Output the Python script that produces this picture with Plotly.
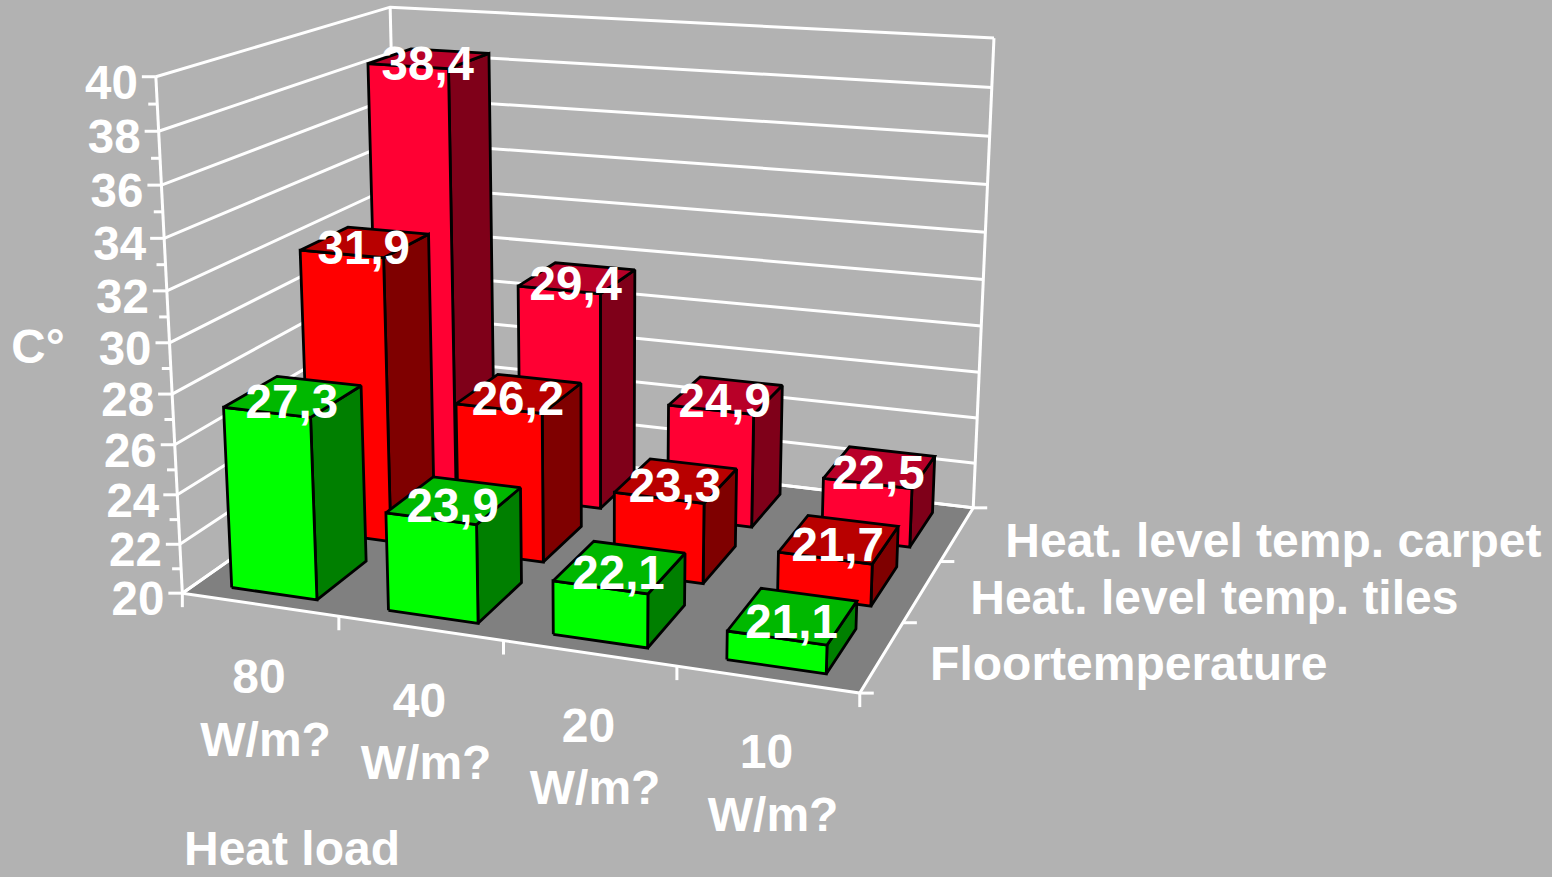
import numpy as np
import plotly.graph_objects as go

# Chart content
categories = ["80 W/m?", "40 W/m?", "20 W/m?", "10 W/m?"]
series_names = ["Floortemperature", "Heat. level temp. tiles", "Heat. level temp. carpet"]
floor_temperature = [27.3, 23.9, 22.1, 21.1]
tiles_temperature = [31.9, 26.2, 23.3, 21.7]
carpet_temperature = [38.4, 29.4, 24.9, 22.5]
value_ticks = list(range(20, 41, 2))
decimal_label = lambda v: f"{v:.1f}".replace(".", ",")

# Face colours per series: front, top, side
front_colors = ["#00FF00", "#FF0000", "#FF0033"]
top_colors = ["#00B800", "#B80000", "#B80028"]
side_colors = ["#007F00", "#7F0000", "#7F0019"]
BACKGROUND = "#B2B2B2"
FLOOR = "#808080"
FONT = "Liberation Sans"
VALUE_FONT_SIZE = 47.5
TITLE_FONT_SIZE = 48

# Box corners (category position, series position, value) and where they sit on the canvas
box_corners = [(0, 0, 20), (4, 0, 20), (4, 3, 20), (0, 3, 20), (0, 0, 40), (0, 3, 40), (4, 3, 40)]
canvas_corners = [(182, 593), (860, 693), (973, 508), (401, 440), (156, 77), (390, 7), (994, 38)]

# Solve the 3D-to-canvas perspective matrix
rows, rhs = [], []
for (a, b, c), (px, py) in zip(box_corners, canvas_corners):
    rows.append([a, b, c, 1, 0, 0, 0, 0, -px * a, -px * b, -px * c])
    rhs.append(px)
    rows.append([0, 0, 0, 0, a, b, c, 1, -py * a, -py * b, -py * c])
    rhs.append(py)
solution = np.linalg.lstsq(np.array(rows, float), np.array(rhs, float), rcond=None)[0]
CAMERA = np.append(solution, 1.0).reshape(3, 4)


def project(a, b, c):
    x, y, w = CAMERA @ np.array([a, b, c, 1.0])
    return x / w, y / w


def polyline(points, color, width):
    xy = [project(*p) for p in points]
    return go.Scatter(x=[p[0] for p in xy], y=[p[1] for p in xy], mode="lines",
                      line=dict(color=color, width=width), hoverinfo="skip", showlegend=False)


def face(points, fill):
    xy = [project(*p) for p in points]
    xy.append(xy[0])
    return go.Scatter(x=[p[0] for p in xy], y=[p[1] for p in xy], mode="lines", fill="toself",
                      fillcolor=fill, line=dict(color="black", width=2.8),
                      hoverinfo="skip", showlegend=False)


def tick(start, dx, dy):
    x, y = project(*start)
    return go.Scatter(x=[x, x + dx], y=[y, y + dy], mode="lines",
                      line=dict(color="white", width=WHITE_W), hoverinfo="skip", showlegend=False)


def labels(xs, ys, texts, position, size):
    return go.Scatter(x=xs, y=ys, text=texts, mode="text", textposition=position,
                      textfont=dict(family=FONT, size=size, color="white", weight="bold"),
                      hoverinfo="skip", showlegend=False, cliponaxis=False)


fig = go.Figure()
N_CAT, N_SER, LOW, HIGH = len(categories), len(series_names), 20, 40
WHITE_W = 3

# Floor
fig.add_trace(face([(0, 0, LOW), (N_CAT, 0, LOW), (N_CAT, N_SER, LOW), (0, N_SER, LOW)], FLOOR))
fig.data[-1].line = dict(color="white", width=WHITE_W)

# Gridlines on the left and back walls, then the wall uprights
for v in value_ticks:
    fig.add_trace(polyline([(0, 0, v), (0, N_SER, v), (N_CAT, N_SER, v)], "white", WHITE_W))
for a, b in [(0, 0), (0, N_SER), (N_CAT, N_SER)]:
    fig.add_trace(polyline([(a, b, LOW), (a, b, HIGH)], "white", WHITE_W))

# Tick marks on all three axes
for v in range(LOW, HIGH + 1):
    fig.add_trace(tick((0, 0, v), -14 if v % 2 == 0 else -9, 0))
for a in range(N_CAT + 1):
    fig.add_trace(tick((a, 0, LOW), 0, 14))
for b in range(N_SER + 1):
    fig.add_trace(tick((N_CAT, b, LOW), 14, 0))

# Bars, painted from the back row forward and left to right within a row
BAR_W, BAR_D = 0.55, 0.65
table = [floor_temperature, tiles_temperature, carpet_temperature]
for s in reversed(range(N_SER)):
    for c in range(N_CAT):
        value = table[s][c]
        a0, a1 = c + 0.5 - BAR_W / 2, c + 0.5 + BAR_W / 2
        b0, b1 = s + 0.5 - BAR_D / 2, s + 0.5 + BAR_D / 2
        fig.add_trace(face([(a1, b0, LOW), (a1, b1, LOW), (a1, b1, value), (a1, b0, value)], side_colors[s]))
        fig.add_trace(face([(a0, b0, LOW), (a1, b0, LOW), (a1, b0, value), (a0, b0, value)], front_colors[s]))
        fig.add_trace(face([(a0, b0, value), (a1, b0, value), (a1, b1, value), (a0, b1, value)], top_colors[s]))

# Value labels over the bar tops
vx, vy, vt = [], [], []
for s in reversed(range(N_SER)):
    for c in range(N_CAT):
        x, y = project(c + 0.5, s + 0.5, table[s][c])
        vx.append(x - 1.5)
        vy.append(y + 10)
        vt.append(decimal_label(table[s][c]))
fig.add_trace(labels(vx, vy, vt, "middle center", VALUE_FONT_SIZE))

# Value axis labels
tick_xy = [project(0, 0, v) for v in value_ticks]
fig.add_trace(labels([p[0] - 18 for p in tick_xy], [p[1] + 10 for p in tick_xy],
                     [str(v) for v in value_ticks], "middle left", VALUE_FONT_SIZE))

# Category labels, two lines each
cat_xy = [project(c + 0.5, 0, LOW) for c in range(N_CAT)]
fig.add_trace(labels([p[0] + 6 for p in cat_xy], [p[1] + 108 for p in cat_xy],
                     [t.replace(" ", "\u00a0<br>") for t in categories], "middle center", TITLE_FONT_SIZE))

# Series labels
ser_xy = [project(N_CAT, s + 0.5, LOW) for s in range(N_SER)]
fig.add_trace(labels([p[0] + 48 for p in ser_xy], [p[1] + 11 for p in ser_xy], series_names,
                     "middle right", TITLE_FONT_SIZE))

# Axis titles
fig.add_trace(labels([38], [351], ["C°"], "middle center", VALUE_FONT_SIZE))
fig.add_trace(labels([292], [853], ["Heat load"], "middle center", TITLE_FONT_SIZE))

fig.update_layout(
    width=1552, height=877, margin=dict(l=0, r=0, t=0, b=0), autosize=False,
    paper_bgcolor=BACKGROUND, plot_bgcolor=BACKGROUND, showlegend=False,
    xaxis=dict(range=[0, 1552], visible=False, fixedrange=True),
    yaxis=dict(range=[877, 0], visible=False, fixedrange=True),
)
fig.write_html("out.html", config={"displayModeBar": False})
